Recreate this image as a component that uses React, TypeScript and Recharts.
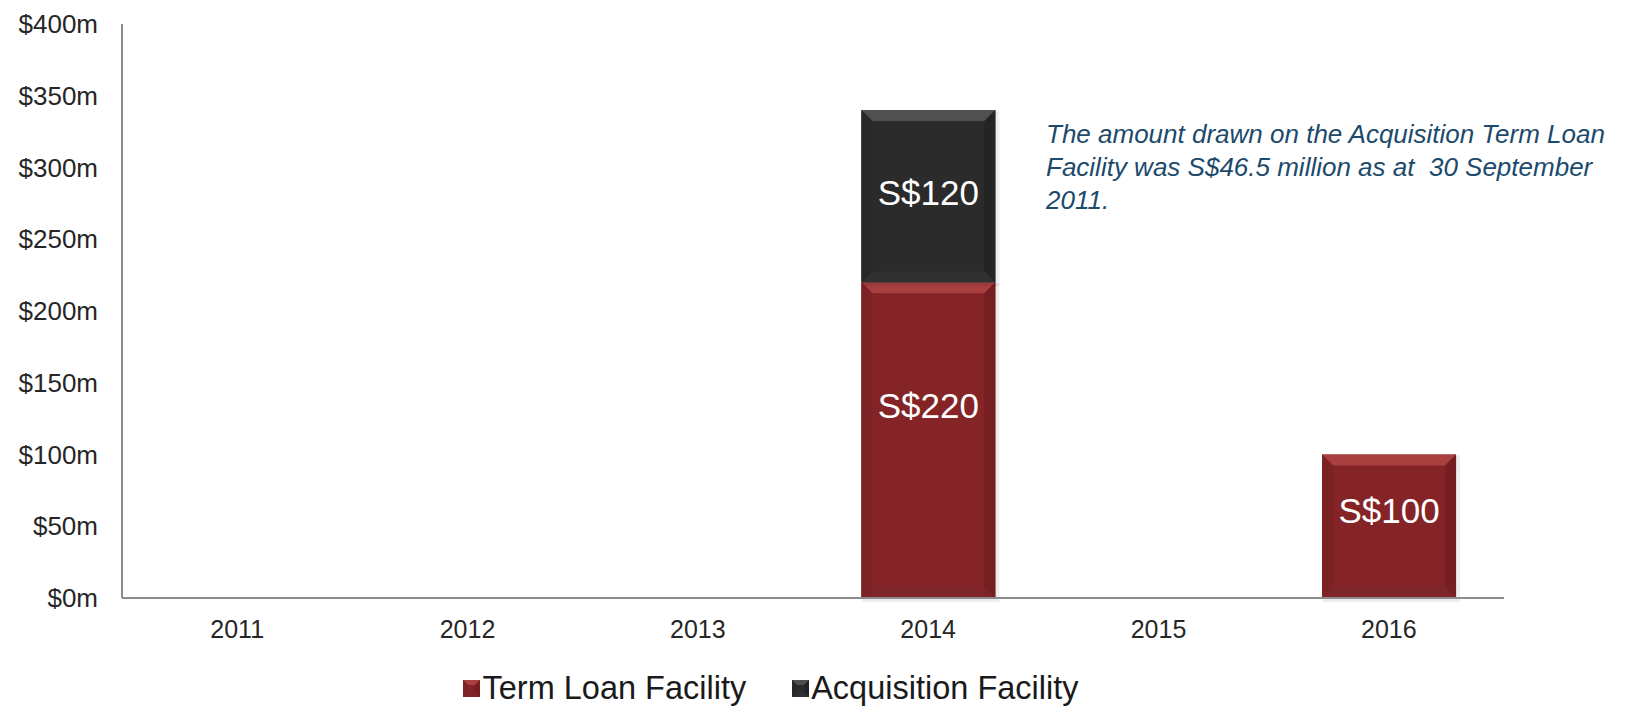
import { BarChart, Bar, XAxis, YAxis, Legend, LabelList } from "recharts";

const years = ["2011", "2012", "2013", "2014", "2015", "2016"];
const termLoan = [0, 0, 0, 220, 0, 100];
const acquisition = [0, 0, 0, 120, 0, 0];
const yTicks = [0, 50, 100, 150, 200, 250, 300, 350, 400];

const data = years.map((year, i) => ({
  year,
  term: termLoan[i],
  acq: acquisition[i],
}));

const FONT = "'Liberation Sans', Arial, sans-serif";

const palettes: Record<string, { base: string; top: string; left: string; right: string; bottom: string }> = {
  term: { base: "#842427", top: "#a9403f", left: "#7c2124", right: "#761f22", bottom: "#7d2528" },
  acq: { base: "#2b2b2b", top: "#505050", left: "#282828", right: "#242424", bottom: "#303030" },
};

function bevelPolys(x: number, y: number, w: number, h: number, b: number, p: typeof palettes.term) {
  return (
    <>
      <rect x={x} y={y} width={w} height={h} fill={p.base} />
      <polygon points={`${x},${y} ${x + w},${y} ${x + w - b},${y + b} ${x + b},${y + b}`} fill={p.top} />
      <polygon points={`${x},${y} ${x + b},${y + b} ${x + b},${y + h - b} ${x},${y + h}`} fill={p.left} />
      <polygon points={`${x + w},${y} ${x + w},${y + h} ${x + w - b},${y + h - b} ${x + w - b},${y + b}`} fill={p.right} />
      <polygon points={`${x},${y + h} ${x + b},${y + h - b} ${x + w - b},${y + h - b} ${x + w},${y + h}`} fill={p.bottom} />
    </>
  );
}

function makeShape(key: string) {
  return (props: any) => {
    const { x, y, width, height } = props;
    if (!height || height <= 0) return <g />;
    const b = Math.min(11, height / 2);
    return (
      <g>
        <rect x={x + 1} y={y + 1} width={width + 3} height={height + 3} fill="#000" opacity={0.07} />
        {bevelPolys(x, y, width, height, b, palettes[key])}
      </g>
    );
  };
}

function makeLabel(frac: number) {
  return (props: any) => {
    const { x, y, width, height, value } = props;
    if (!value) return null;
    return (
      <text
        x={x + width / 2}
        y={y + height * frac}
        fill="#ffffff"
        fontSize={35}
        fontFamily={FONT}
        textAnchor="middle"
        dominantBaseline="central"
      >
        {`S$${value}`}
      </text>
    );
  };
}

const legendItems = [
  { key: "term", label: "Term Loan Facility" },
  { key: "acq", label: "Acquisition Facility" },
];

function LegendContent() {
  return (
    <div style={{ height: 68, display: "flex", justifyContent: "center", alignItems: "flex-start", paddingLeft: 38 }}>
      {legendItems.map((it, i) => (
        <div
          key={it.key}
          style={{ display: "flex", alignItems: "center", marginTop: 33, marginLeft: i ? 46 : 0 }}
        >
          <svg width={17} height={17} style={{ marginRight: 2 }}>
            {bevelPolys(0, 0, 17, 17, 5, palettes[it.key])}
          </svg>
          <span style={{ fontFamily: FONT, fontSize: 32.5, color: "#1a1a1a", lineHeight: "34px" }}>{it.label}</span>
        </div>
      ))}
    </div>
  );
}

export default function App() {
  return (
    <div style={{ position: "absolute", left: 0, top: 0, width: 1629, height: 706, background: "#fff" }}>
      <BarChart
        width={1629}
        height={706}
        data={data}
        margin={{ top: 24, right: 125, bottom: 0, left: 0 }}
        barCategoryGap="21%"
      >
        <XAxis
          dataKey="year"
          height={40}
          tickLine={false}
          tickSize={0}
          tickMargin={22}
          axisLine={{ stroke: "#8c8c8c", strokeWidth: 2 }}
          tick={{ fill: "#262626", fontSize: 25, fontFamily: FONT }}
        />
        <YAxis
          width={122}
          domain={[0, 400]}
          ticks={yTicks}
          interval={0}
          tickLine={false}
          tickSize={0}
          tickMargin={24}
          axisLine={{ stroke: "#8c8c8c", strokeWidth: 2 }}
          tick={{ fill: "#262626", fontSize: 26, fontFamily: FONT }}
          tickFormatter={(v: number) => `$${v}m`}
        />
        <Legend verticalAlign="bottom" content={<LegendContent />} />
        <Bar dataKey="term" name="Term Loan Facility" stackId="a" shape={makeShape("term")} isAnimationActive={false}>
          <LabelList dataKey="term" content={makeLabel(0.39)} />
        </Bar>
        <Bar dataKey="acq" name="Acquisition Facility" stackId="a" shape={makeShape("acq")} isAnimationActive={false}>
          <LabelList dataKey="acq" content={makeLabel(0.48)} />
        </Bar>
      </BarChart>
      <div
        style={{
          position: "absolute",
          left: 1046,
          top: 118,
          fontFamily: FONT,
          fontStyle: "italic",
          fontSize: 26,
          lineHeight: "33px",
          color: "#1c4a6c",
          whiteSpace: "pre",
        }}
      >
        {"The amount drawn on the Acquisition Term Loan\nFacility was S$46.5 million as at  30 September\n2011."}
      </div>
    </div>
  );
}
